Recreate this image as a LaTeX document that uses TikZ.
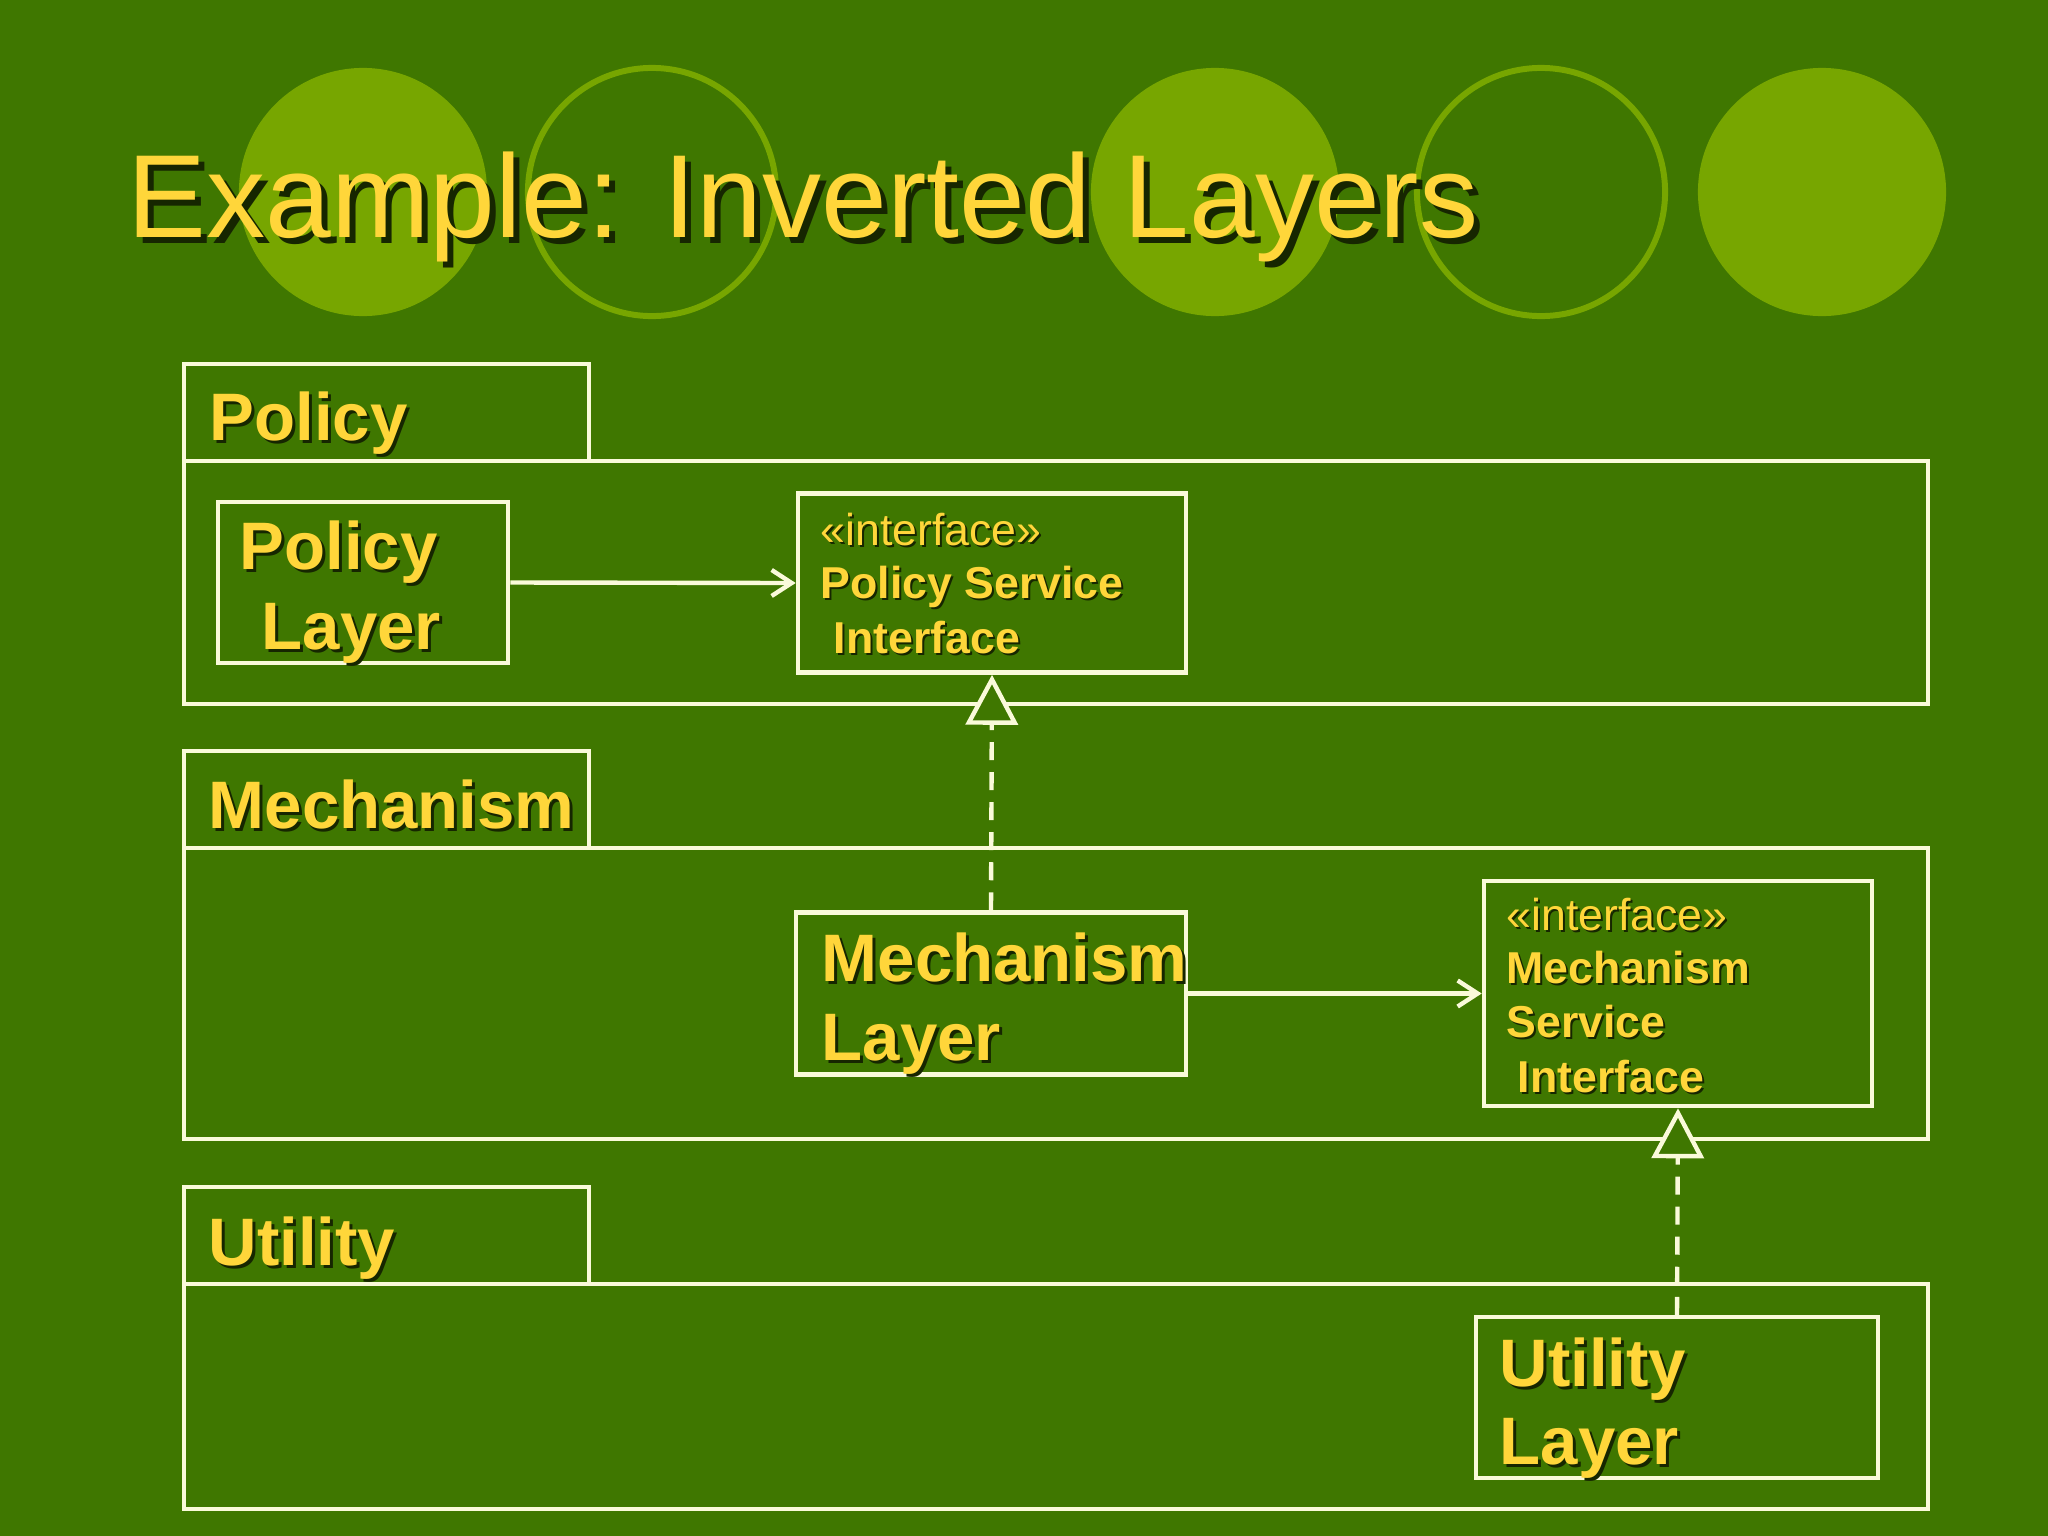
\documentclass[tikz,border=0pt]{standalone}
\usepackage{fontspec}
\usetikzlibrary{arrows.meta}
\newfontfamily\lsans{Liberation Sans}
\definecolor{bggreen}{RGB}{63,119,0}
\definecolor{lightgreen}{RGB}{119,166,0}
\definecolor{linecream}{RGB}{250,250,218}
\definecolor{txtyellow}{RGB}{255,214,58}
\definecolor{shadowcol}{RGB}{22,38,0}
\newcommand{\myftitle}{\lsans\fontsize{33.6}{34}\selectfont}
\newcommand{\myfbig}{\lsans\bfseries\fontsize{19.1}{20}\selectfont}
\newcommand{\myfsmall}{\lsans\bfseries\fontsize{12.7}{13}\selectfont}
\newcommand{\myfster}{\lsans\fontsize{12.7}{13}\selectfont}
% name, x, y, font, shadow offset, text
\newcommand{\stxt}[6]{%
  \node[lblshadow,font=#4] (#1s) at (#2+#5,#3+#5) {#6};
  \node[lbl,font=#4] (#1) at (#2,#3) {#6};}
\begin{document}
\begin{tikzpicture}[x=0.01cm,y=-0.01cm,
  lbl/.style={anchor=base west,inner sep=0pt,text=txtyellow},
  lblshadow/.style={anchor=base west,inner sep=0pt,text=shadowcol},
  pkg/.style={draw=linecream,line width=1.25pt},
  cls/.style={draw=linecream,line width=1.25pt,inner sep=0pt},
  dep/.style={draw=linecream,line width=1.25pt,-{Straight Barb[length=0.2cm,width=0.26cm]}},
  real/.style={draw=linecream,line width=1.25pt,dash pattern=on 0.18cm off 0.12cm,
    -{Triangle[length=0.5cm,width=0.52cm,fill=bggreen]}},
  disc/.style={fill=lightgreen},
  ring/.style={draw=lightgreen,line width=1.7pt}]
\useasboundingbox (0,0) rectangle (2048,1536);
\fill[bggreen] (0,0) rectangle (2048,1536);
% decorative circles
\fill[disc] (363,192) circle[radius=1.24cm];
\draw[ring] (652,192) circle[radius=1.24cm];
\fill[disc] (1215,192) circle[radius=1.24cm];
\draw[ring] (1541,192) circle[radius=1.24cm];
\fill[disc] (1822,192) circle[radius=1.24cm];
% title
\stxt{title}{127}{237}{\myftitle}{6}{Example: Inverted Layers}
% packages
\draw[pkg] (184,364) rectangle (589,461);
\draw[pkg] (184,461) rectangle (1928,704);
\draw[pkg] (184,751) rectangle (589,848);
\draw[pkg] (184,848) rectangle (1928,1139);
\draw[pkg] (184,1187) rectangle (589,1284);
\draw[pkg] (184,1284) rectangle (1928,1509);
\stxt{tabpol}{209}{440}{\myfbig}{3}{Policy}
\stxt{tabmech}{208}{828}{\myfbig}{3}{Mechanism}
\stxt{tabutil}{208}{1265}{\myfbig}{3}{Utility}
% class boxes
\node[cls,minimum width=2.90cm,minimum height=1.61cm] (pl) at (363,582.5) {};
\node[cls,minimum width=3.88cm,minimum height=1.79cm] (psi) at (992,583) {};
\node[cls,minimum width=3.90cm,minimum height=1.62cm] (ml) at (991,993.5) {};
\node[cls,minimum width=3.88cm,minimum height=2.25cm] (msi) at (1678,993.5) {};
\node[cls,minimum width=4.02cm,minimum height=1.61cm] (ul) at (1677,1397.5) {};
% box texts
\stxt{plA}{239}{569}{\myfbig}{3}{Policy}
\stxt{plB}{261}{649}{\myfbig}{3}{Layer}
\stxt{psiA}{820}{545}{\myfster}{2}{«interface»}
\stxt{psiB}{820}{598}{\myfsmall}{2}{Policy Service}
\stxt{psiC}{833}{653}{\myfsmall}{2}{Interface}
\stxt{mlA}{821}{981}{\myfbig}{3}{Mechanism}
\stxt{mlB}{821}{1060}{\myfbig}{3}{Layer}
\stxt{msiA}{1506}{930}{\myfster}{2}{«interface»}
\stxt{msiB}{1506}{983}{\myfsmall}{2}{Mechanism}
\stxt{msiC}{1506}{1037}{\myfsmall}{2}{Service}
\stxt{msiD}{1517}{1092}{\myfsmall}{2}{Interface}
\stxt{ulA}{1499}{1386}{\myfbig}{3}{Utility}
\stxt{ulB}{1499}{1464}{\myfbig}{3}{Layer}
% connectors
\draw[dep] (pl.east) -- (psi.west);
\draw[dep] (ml.east) -- (msi.west);
\draw[real] (ml.north) -- (psi.south);
\draw[real] (ul.north) -- (msi.south);
\end{tikzpicture}
\end{document}
